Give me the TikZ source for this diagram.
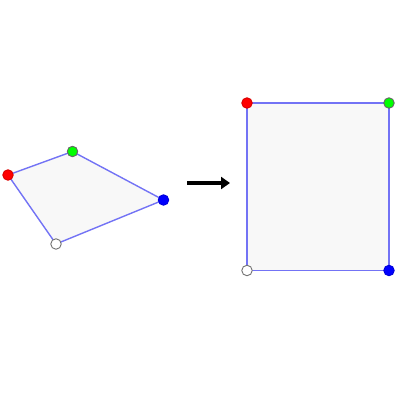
\documentclass[tikz,border=0pt]{standalone}
\usetikzlibrary{arrows.meta}
\definecolor{edgeblue}{RGB}{115,115,245}
\definecolor{fillgray}{RGB}{248,248,248}
\tikzset{
  pt/.style={circle,inner sep=0pt,minimum size=10.5pt,line width=0.9pt},
  polyshape/.style={draw=edgeblue,fill=fillgray,line width=1.4pt,line join=round},
}
\begin{document}
\begin{tikzpicture}[x=1pt,y=-1pt]
\useasboundingbox (0,0) rectangle (400,400);
% left quadrilateral
\coordinate (qr) at (8,175);
\coordinate (qg) at (72.5,151.5);
\coordinate (qb) at (163.5,200);
\coordinate (qw) at (56,244);
\draw[polyshape] (qr) -- (qg) -- (qb) -- (qw) -- cycle;
% right rectangle
\coordinate (rr) at (247,103);
\coordinate (rg) at (389,103);
\coordinate (rb) at (389,270.5);
\coordinate (rw) at (247,270.5);
\draw[polyshape] (rr) -- (rg) -- (rb) -- (rw) -- cycle;
% dots
\node[pt,fill=red,draw=red!85!black] (dqr) at (qr) {};
\node[pt,fill=green,draw=black!60] (dqg) at (qg) {};
\node[pt,fill=blue,draw=blue!85!black] (dqb) at (qb) {};
\node[pt,fill=white,draw=black!55] (dqw) at (qw) {};
\node[pt,fill=red,draw=red!85!black] (drr) at (rr) {};
\node[pt,fill=green,draw=black!60] (drg) at (rg) {};
\node[pt,fill=blue,draw=blue!85!black] (drb) at (rb) {};
\node[pt,fill=white,draw=black!55] (drw) at (rw) {};
% arrow
\coordinate (as) at (187,183);
\coordinate (ae) at (230,183);
\draw[line width=4pt,-{Triangle[length=9pt,width=12pt]}] (as) -- (ae);
\end{tikzpicture}
\end{document}
